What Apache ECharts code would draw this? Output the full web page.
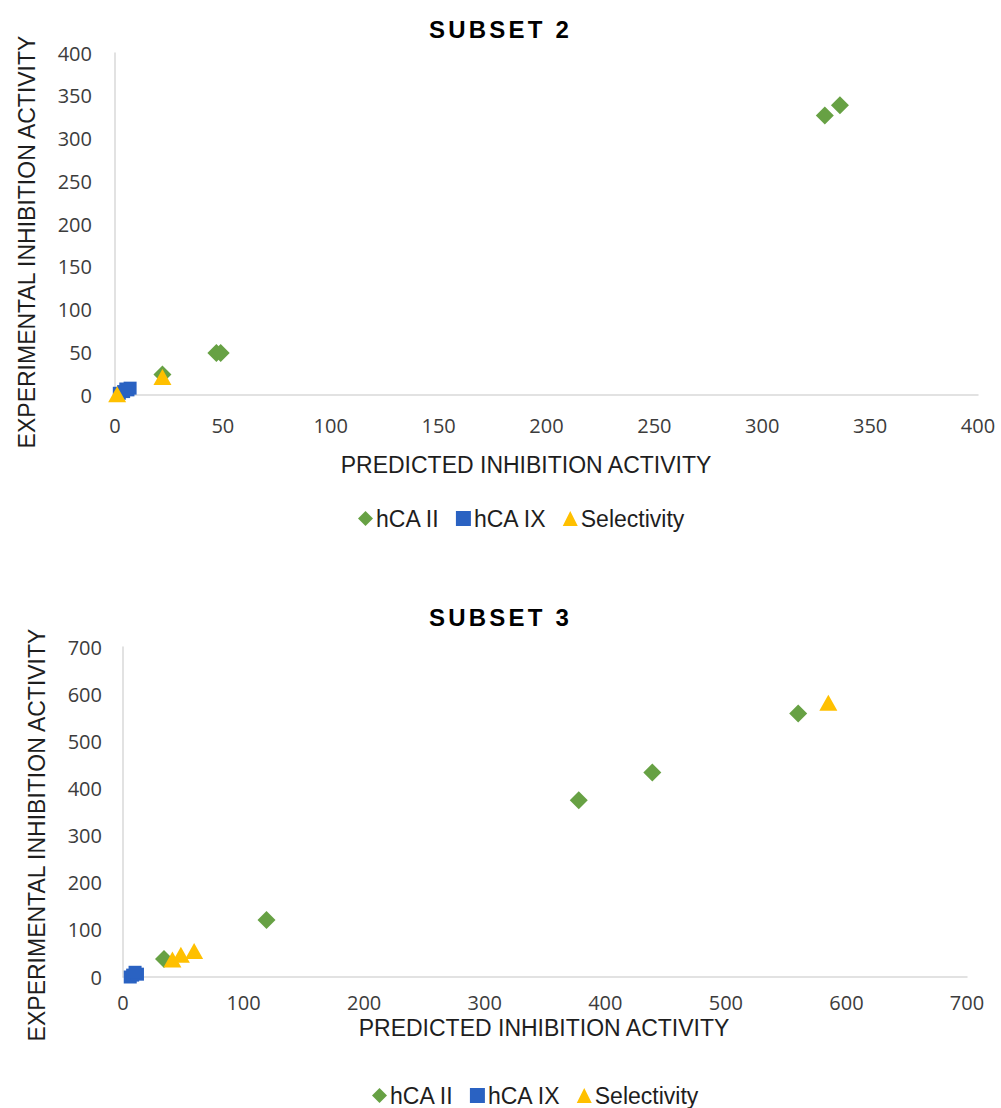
<!DOCTYPE html>
<html>
<head>
<meta charset="utf-8">
<script src="https://cdn.jsdelivr.net/npm/echarts@6/dist/echarts.min.js"></script>
<style>
  html, body { margin: 0; padding: 0; background: #fff; }
  #chart { width: 1001px; height: 1108px; }
  /* spaced-out bold panel titles */
  #chart svg text[style*="bold"] { letter-spacing: 3.2px; }
</style>
</head>
<body>
<div id="chart"></div>
<script>
// Subset 2: [predicted, experimental]
const s2HcaII = [[22, 24], [47, 49], [49, 49], [329, 327], [336, 339]];
const s2HcaIX = [[2, 2], [4, 4], [6, 6], [7, 8], [5, 7]];
const s2Selectivity = [[1, 1], [22, 21]];

// Subset 3: [predicted, experimental]
const s3HcaII = [[34, 38], [119, 121], [378, 375], [439, 434], [560, 559]];
const s3HcaIX = [[6, 0], [8, 4], [12, 6], [10, 10]];
const s3Selectivity = [[41, 37], [48, 47], [59, 55], [585, 582]];

const s2XTicks = { min: 0, max: 400, interval: 50 };
const s2YTicks = { min: 0, max: 400, interval: 50 };
const s3XTicks = { min: 0, max: 700, interval: 100 };
const s3YTicks = { min: 0, max: 700, interval: 100 };

const seriesNames = ['hCA II', 'hCA IX', 'Selectivity'];
const panelTitles = ['SUBSET 2', 'SUBSET 3'];
const xAxisTitle = 'PREDICTED INHIBITION ACTIVITY';
const yAxisTitle = 'EXPERIMENTAL INHIBITION ACTIVITY';

const GREEN = '#67a144';
const BLUE = '#2a62c2';
const YELLOW = '#ffc000';
const AXIS_GREY = '#d9d9d9';
const NAME_COLOR = '#1e1e1e';

const tickFont = '"Open Sans", "Noto Sans", sans-serif';
const sansFont = '"Liberation Sans", Arial, sans-serif';

function valueAxis(ticks, gridIndex, margin) {
  return {
    type: 'value', gridIndex: gridIndex,
    min: ticks.min, max: ticks.max, interval: ticks.interval,
    axisLine: { show: true, onZero: false, lineStyle: { color: AXIS_GREY, width: 1.5 } },
    axisTick: { show: false },
    splitLine: { show: false },
    axisLabel: { color: '#3c3c3c', fontSize: 20, fontFamily: tickFont, margin: margin }
  };
}

function scatter(name, data, idx, symbol, size, color) {
  return {
    name: name, type: 'scatter', xAxisIndex: idx, yAxisIndex: idx,
    data: data, symbol: symbol, symbolSize: size,
    itemStyle: { color: color, opacity: 1 },
    emphasis: { disabled: true }
  };
}

function legend(left, centerY) {
  return {
    left: left, top: centerY - 16, itemGap: 16, itemWidth: 15, itemHeight: 15,
    data: [
      { name: seriesNames[0], icon: 'diamond' },
      { name: seriesNames[1], icon: 'rect' },
      { name: seriesNames[2], icon: 'triangle' }
    ],
    textStyle: { color: NAME_COLOR, fontSize: 23, fontFamily: sansFont, padding: [0, 0, 0, -2] },
    selectedMode: false
  };
}

function axisName(text, x, y, rotate) {
  return {
    type: 'text', x: x, y: y, rotation: rotate ? Math.PI / 2 : 0,
    style: {
      text: text, fill: NAME_COLOR, font: '23px "Liberation Sans", Arial, sans-serif',
      textAlign: 'center', textVerticalAlign: 'middle'
    }
  };
}

function panelTitle(text, top) {
  return {
    text: text, left: 'center', top: top,
    textStyle: { fontSize: 24, fontWeight: 'bold', color: '#000', fontFamily: sansFont }
  };
}

const chart = echarts.init(document.getElementById('chart'), null, { renderer: 'svg' });

chart.setOption({
  animation: false,
  backgroundColor: '#fff',
  title: [panelTitle(panelTitles[0], 12), panelTitle(panelTitles[1], 600)],
  legend: [legend(353, 518), legend(367, 1095)],
  grid: [
    { left: 115, top: 53, width: 863, height: 342 },
    { left: 123, top: 647, width: 844, height: 330 }
  ],
  xAxis: [valueAxis(s2XTicks, 0, 20), valueAxis(s3XTicks, 1, 15)],
  yAxis: [valueAxis(s2YTicks, 0, 23), valueAxis(s3YTicks, 1, 21)],
  series: [
    scatter(seriesNames[1], s2HcaIX, 0, 'rect', 13, BLUE),
    scatter(seriesNames[0], s2HcaII, 0, 'diamond', 18, GREEN),
    scatter(seriesNames[2], s2Selectivity, 0, 'triangle', [18, 16], YELLOW),
    scatter(seriesNames[1], s3HcaIX, 1, 'rect', 13, BLUE),
    scatter(seriesNames[0], s3HcaII, 1, 'diamond', 18, GREEN),
    scatter(seriesNames[2], s3Selectivity, 1, 'triangle', [18, 16], YELLOW)
  ],
  graphic: [
    axisName(xAxisTitle, 526, 465, false),
    axisName(yAxisTitle, 27, 242, true),
    axisName(xAxisTitle, 544, 1028, false),
    axisName(yAxisTitle, 37, 835, true)
  ]
});
</script>
</body>
</html>
